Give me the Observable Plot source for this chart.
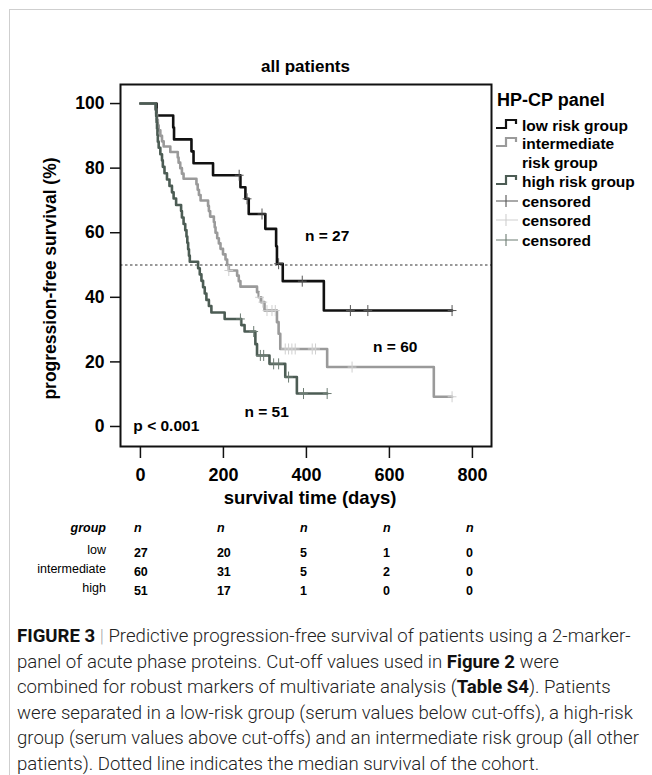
<!DOCTYPE html>
<html><head><meta charset="utf-8">
<script src="https://cdn.jsdelivr.net/npm/d3@7"></script>
<script src="https://cdn.jsdelivr.net/npm/@observablehq/plot@0.6"></script>
<style>
body{margin:0;background:#fff;}
#fig{position:relative;width:652px;height:775px;overflow:hidden;font-family:"Liberation Sans",Arial,sans-serif;color:#000;background:#fff;}
.bl{position:absolute;left:9px;top:9px;bottom:0;width:1px;background:#cfcfcf}
.bt{position:absolute;left:9px;top:9px;right:0;height:1px;background:#cfcfcf}
#title{position:absolute;left:120px;width:371px;top:57px;text-align:center;font-weight:bold;font-size:17px;line-height:20px;}
#chart{position:absolute;left:0;top:80px;}
#chart svg{overflow:visible}
.lg{position:absolute;font-weight:bold;white-space:nowrap;line-height:19px;}
.lg svg{position:absolute;}
.tb{position:absolute;font-size:12.5px;line-height:14px;white-space:nowrap;}
#cap{position:absolute;left:17px;top:624px;font-family:Roboto,"Liberation Sans",sans-serif;font-weight:300;color:#222;font-size:17px;line-height:25.6px;white-space:nowrap;}
#cap b{font-weight:bold;color:#111}
#cap .bar{color:#aaa;font-weight:300}
</style></head>
<body>
<div id="fig">
  <div class="bl"></div><div class="bt"></div>
  <div id="title">all patients</div>
  <div id="chart"></div>
  <div id="legend"></div>
  <div id="table"></div>
  <div id="cap"></div>
</div>
<script>
// ---------- data ----------
const xTicks = [0, 200, 400, 600, 800];
const yTicks = [0, 20, 40, 60, 80, 100];

const lowT  = [0, 39, 79, 81, 123, 128, 175, 241, 253, 261, 301, 327, 329, 343, 442, 751];
const lowS  = [100, 96.3, 92.6, 88.9, 85.2, 81.5, 77.8, 74.1, 70.5, 65.8, 61.2, 55.8, 50.4, 45.0, 35.9, 35.9];

const midT  = [0, 36, 38, 40, 42, 44, 48, 52, 56, 72, 90, 92, 96, 100, 104, 135, 138, 141, 145, 163, 165, 168, 177, 179, 181, 185, 189, 193, 199, 205, 209, 213, 233, 237, 241, 281, 285, 291, 299, 329, 333, 337, 450, 707, 751];
const midS  = [100, 98.3, 96.7, 95.0, 93.3, 91.7, 90.0, 88.3, 86.7, 85.0, 83.3, 81.7, 80.0, 78.3, 76.7, 75.0, 73.3, 71.7, 70.0, 68.3, 66.7, 65.0, 63.3, 61.7, 60.0, 58.3, 56.7, 55.0, 53.3, 51.7, 50.0, 48.3, 46.7, 45.0, 43.3, 41.6, 40.0, 38.5, 35.9, 32.3, 28.7, 24.0, 18.4, 9.2, 9.2];

const highT = [0, 37, 38, 39, 40, 41, 42, 44, 48, 52, 54, 58, 64, 70, 76, 80, 86, 98, 100, 104, 108, 111, 113, 115, 117, 119, 139, 143, 147, 151, 155, 159, 165, 171, 203, 243, 251, 277, 281, 311, 349, 377, 450];
const highS = [100, 98.0, 96.1, 94.1, 92.2, 90.2, 88.2, 86.3, 84.3, 82.4, 80.4, 78.4, 76.5, 74.5, 72.5, 70.6, 68.6, 66.7, 64.7, 62.7, 60.8, 58.8, 56.9, 54.9, 52.9, 51.0, 49.0, 47.1, 45.1, 43.1, 41.2, 39.2, 37.3, 35.3, 33.3, 31.4, 29.4, 25.5, 22.0, 19.4, 15.3, 10.2, 10.2];

const lowCT  = [238, 257, 293, 333, 390, 506, 548, 751];
const lowCS  = [77.8, 70.5, 65.8, 50.4, 45.0, 35.9, 35.9, 35.9];
const midCT  = [213, 287, 295, 305, 317, 325, 349, 357, 365, 373, 414, 422, 510, 751];
const midCS  = [48.3, 40.0, 38.5, 35.9, 35.9, 35.9, 24.0, 24.0, 24.0, 24.0, 24.0, 24.0, 18.4, 9.2];
const highCT = [241, 273, 289, 297, 321, 333, 357, 393, 450];
const highCS = [33.3, 29.4, 22.0, 22.0, 19.4, 19.4, 15.3, 10.2, 10.2];

const groups      = ["low", "intermediate", "high"];
const groupColors = ["#111111", "#9a9a9a", "#4c5c54"];
const censColors  = ["#555555", "#cfcfcf", "#6d7c73"];
const legendNames = ["low risk group", "intermediate<br>risk group", "high risk group"];

const annoText = ["n = 27", "n = 60", "n = 51"];
const annoT    = [450, 614, 304];
const annoS    = [59.1, 24.5, 4.4];
const pText = "p < 0.001";

const riskTimes = [0, 200, 400, 600, 800];
const riskLow  = [27, 20, 5, 1, 0];
const riskMid  = [60, 31, 5, 2, 0];
const riskHigh = [51, 17, 1, 0, 0];

// ---------- build tables ----------
const zip = (T, S) => T.map((t, i) => ({t, s: S[i]}));
const curves = [zip(lowT, lowS), zip(midT, midS), zip(highT, highS)];
const cens   = [zip(lowCT, lowCS), zip(midCT, midCS), zip(highCT, highCS)];
const anno   = annoText.map((txt, i) => ({txt, t: annoT[i], s: annoS[i]}));

const plusSym = {draw(ctx, size) {
  const r = Math.sqrt(size / Math.PI);
  ctx.moveTo(0, -r); ctx.lineTo(0, r);
  ctx.moveTo(-r * 0.8, 0); ctx.lineTo(r * 0.8, 0);
}};

const order = [0, 1, 2];
const plot = Plot.plot({
  width: 652, height: 440,
  marginLeft: 120, marginRight: 161, marginTop: 4, marginBottom: 74,
  x: {domain: [-48, 846]},
  y: {domain: [-6.2, 105.9]},
  style: {fontFamily: "'Liberation Sans', Arial, sans-serif", background: "transparent", color: "#000"},
  marks: [
    Plot.ruleY([50], {stroke: "#333", strokeWidth: 1.2, strokeDasharray: "2.5,2.5"}),
    ...order.map(i => Plot.line(curves[i], {x: "t", y: "s", curve: "step-after", stroke: groupColors[i], strokeWidth: 2.6})),
    ...order.map(i => Plot.dot(cens[i], {x: "t", y: "s", symbol: plusSym, r: 5.5, stroke: censColors[i], strokeWidth: 1, fill: "none"})),
    Plot.text(anno, {x: "t", y: "s", text: "txt", fontSize: 15.5, fontWeight: "bold", fill: "#000"}),
    Plot.text([pText], {x: -17, y: 0, textAnchor: "start", fontSize: 15.5, fontWeight: "bold", fill: "#000"}),
    Plot.frame({stroke: "#111", strokeWidth: 2}),
    Plot.axisY({ticks: yTicks, tickSize: 10, tickPadding: 6, fontSize: 17.5, fontWeight: "bold", label: null, stroke: "#111", strokeWidth: 1.5}),
    Plot.axisX({ticks: xTicks, tickSize: 12, tickPadding: 10, fontSize: 18, fontWeight: "bold", label: null, stroke: "#111", strokeWidth: 1.5}),
    Plot.text(["progression-free survival (%)"], {frameAnchor: "left", textAnchor: "middle", lineAnchor: "middle", rotate: -90, dx: -70, dy: 13, fontSize: 17.5, fontWeight: "bold", fill: "#000"}),
    Plot.text(["survival time (days)"], {frameAnchor: "bottom", textAnchor: "middle", lineAnchor: "middle", dy: 52, dx: 4, fontSize: 18.5, fontWeight: "bold", fill: "#000"})
  ]
});
document.getElementById("chart").appendChild(plot);
const xs = plot.scale("x");

// ---------- legend ----------
const lg = document.getElementById("legend");
const addLg = (html, left, top, size) => {
  const d = document.createElement("div");
  d.className = "lg";
  d.style.left = left + "px"; d.style.top = top + "px"; d.style.fontSize = size + "px";
  d.innerHTML = html;
  lg.appendChild(d);
};
addLg("HP-CP panel", 497, 91, 18);
const stepGlyph = c => `<svg width="26" height="12" style="left:-27px;top:2px"><path d="M1,10H11V2H21V6" fill="none" stroke="${c}" stroke-width="2.2"/></svg>`;
const plusGlyph = c => `<svg width="26" height="14" style="left:-27px;top:1px"><path d="M1,8H23M11,2V14" fill="none" stroke="${c}" stroke-width="1.1"/></svg>`;
const lgTops = [116, 134, 172];
groups.forEach((g, i) => {
  addLg(stepGlyph(groupColors[i]) + legendNames[i], 522, lgTops[i], 15.5);
});
const lgC = [192, 211, 231];
groups.forEach((g, i) => {
  addLg(plusGlyph(censColors[i]) + "censored", 522, lgC[i], 15.5);
});

// ---------- number at risk table ----------
const tb = document.getElementById("table");
const addT = (txt, x, y, align, style) => {
  const d = document.createElement("div");
  d.className = "tb";
  d.textContent = txt;
  d.style.top = y + "px";
  if (align === "right") { d.style.right = (652 - x) + "px"; }
  else if (align === "center") { d.style.left = x + "px"; d.style.transform = "translateX(-50%)"; }
  else { d.style.left = x + "px"; }
  Object.assign(d.style, style || {});
  tb.appendChild(d);
};
addT("group", 106, 521, "right", {fontStyle: "italic", fontWeight: "bold"});
riskTimes.forEach(t => addT("n", xs.apply(t) - 2, 521, "center", {fontStyle: "italic", fontWeight: "bold"}));
const rowsY = [543, 562, 581];
const riskRows = [riskLow, riskMid, riskHigh];
groups.forEach((g, r) => {
  addT(g, 106, rowsY[r], "right", {});
  riskRows[r].forEach((v, c) => addT(String(v), xs.apply(riskTimes[c]) - 6, rowsY[r] + 3, "left", {fontWeight: "bold"}));
});

// ---------- caption ----------
const capLines = [
  '<b>FIGURE 3</b> <span class="bar">|</span> Predictive progression-free survival of patients using a 2-marker-',
  'panel of acute phase proteins. Cut-off values used in <b>Figure 2</b> were',
  'combined for robust markers of multivariate analysis (<b>Table S4</b>). Patients',
  'were separated in a low-risk group (serum values below cut-offs), a high-risk',
  'group (serum values above cut-offs) and an intermediate risk group (all other',
  'patients). Dotted line indicates the median survival of the cohort.'
];
const cap = document.getElementById("cap");
cap.innerHTML = capLines.map(l => `<div><span>${l}</span></div>`).join("");
const spans = [...cap.children].map(d => d.firstChild);
const w4 = spans[3].getBoundingClientRect().width;
if (w4 > 0) cap.style.fontSize = (17 * 616 / w4).toFixed(2) + "px";
</script>
</body></html>
